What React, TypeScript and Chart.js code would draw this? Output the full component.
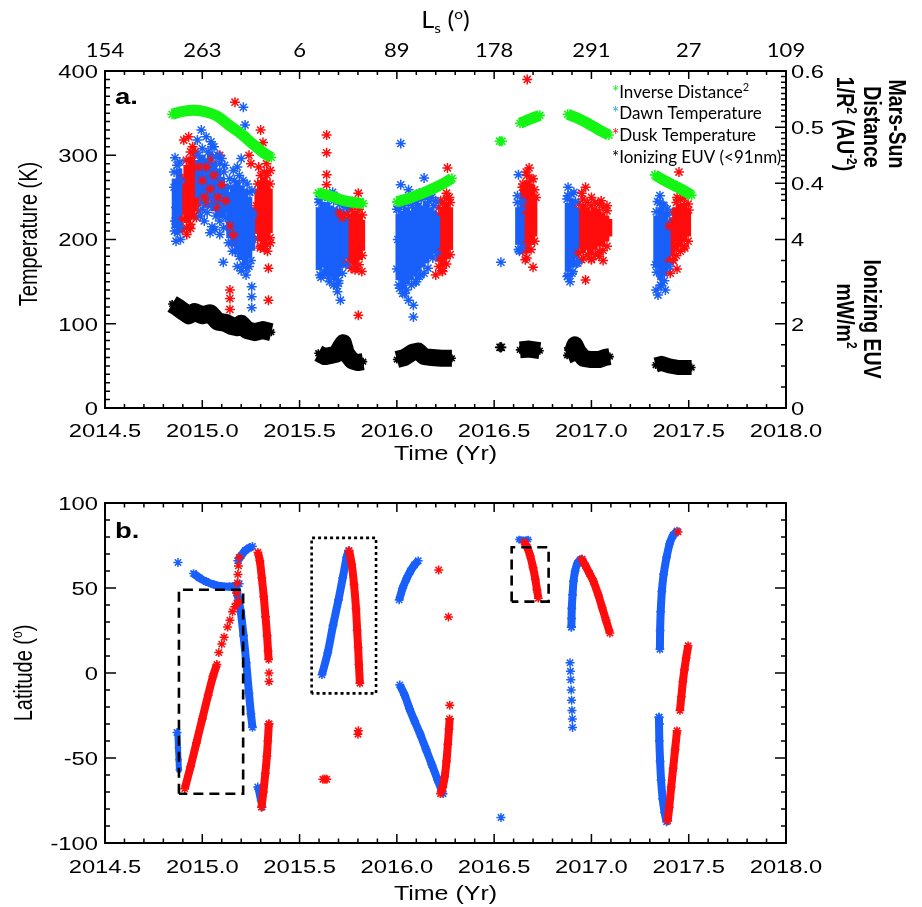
import React, { useEffect, useRef } from 'react';
import { Chart, registerables } from 'chart.js';
Chart.register(...registerables);

type P = [number, number];
type C = [number, number, number];

// ===== axis values =====
const timeTicks = [2014.5, 2015.0, 2015.5, 2016.0, 2016.5, 2017.0, 2017.5, 2018.0];
const timeTickLabels = ['2014.5', '2015.0', '2015.5', '2016.0', '2016.5', '2017.0', '2017.5', '2018.0'];
const lsTickLabels = ['154', '263', '6', '89', '178', '291', '27', '109'];
const tempTicks = [0, 100, 200, 300, 400];
const invTicks = [0.4, 0.5, 0.6];
const euvTicks = [0, 2, 4];
const latTicks = [-100, -50, 0, 50, 100];

// ===== panel a : inverse distance^2 (AU^-2) =====
const invDist1: P[] = [[2014.845, 0.523], [2014.9, 0.528], [2014.96, 0.53], [2015.02, 0.527], [2015.08, 0.519], [2015.14, 0.503], [2015.2, 0.488], [2015.26, 0.47], [2015.32, 0.453], [2015.355, 0.446]];
const invDist2: P[] = [[2015.596, 0.383], [2015.64, 0.379], [2015.68, 0.375], [2015.72, 0.37], [2015.76, 0.367], [2015.827, 0.364]];
const invDist3: P[] = [[2016.0, 0.367], [2016.05, 0.372], [2016.1, 0.378], [2016.15, 0.385], [2016.2, 0.393], [2016.25, 0.402], [2016.283, 0.409]];
const invDist4: P[] = [[2016.528, 0.475], [2016.54, 0.475]];
const invDist5: P[] = [[2016.633, 0.507], [2016.68, 0.514], [2016.735, 0.521]];
const invDist6: P[] = [[2016.878, 0.523], [2016.93, 0.516], [2016.975, 0.508], [2017.03, 0.497], [2017.09, 0.486]];
const invDist7: P[] = [[2017.326, 0.415], [2017.37, 0.406], [2017.42, 0.397], [2017.47, 0.388], [2017.515, 0.379]];

// ===== panel a : ionizing EUV (mW/m^2) =====
const euv1: P[] = [[2014.845, 2.47], [2014.87, 2.4], [2014.9, 2.3], [2014.93, 2.2], [2014.96, 2.28], [2015.0, 2.2], [2015.04, 2.25], [2015.08, 2.05], [2015.12, 2.02], [2015.15, 1.95], [2015.18, 1.92], [2015.2, 2.0], [2015.23, 1.85], [2015.27, 1.8], [2015.31, 1.85], [2015.355, 1.8]];
const euv2: P[] = [[2015.596, 1.3], [2015.63, 1.22], [2015.66, 1.25], [2015.69, 1.28], [2015.71, 1.45], [2015.725, 1.55], [2015.74, 1.3], [2015.77, 1.12], [2015.8, 1.08], [2015.827, 1.1]];
const euv3: P[] = [[2016.0, 1.15], [2016.04, 1.2], [2016.08, 1.32], [2016.11, 1.35], [2016.14, 1.22], [2016.18, 1.2], [2016.23, 1.18], [2016.283, 1.18]];
const euv4: P[] = [[2016.53, 1.44], [2016.537, 1.44]];
const euv5: P[] = [[2016.632, 1.38], [2016.68, 1.4], [2016.735, 1.36]];
const euv6: P[] = [[2016.875, 1.25], [2016.9, 1.3], [2016.915, 1.5], [2016.93, 1.35], [2016.96, 1.18], [2017.0, 1.15], [2017.04, 1.15], [2017.07, 1.2], [2017.095, 1.22]];
const euv7: P[] = [[2017.33, 1.02], [2017.36, 1.06], [2017.4, 1.0], [2017.45, 0.96], [2017.515, 0.96]];

// ===== panel a : temperatures (K); dense cores as [time, low, high] =====
const dawnTempCore: C[] = [
  [2014.86, 214, 272], [2014.88, 208, 284],
  [2014.98, 250, 294], [2015.0, 242, 300], [2015.02, 238, 296], [2015.04, 246, 304], [2015.06, 234, 292], [2015.08, 228, 284], [2015.1, 226, 274], [2015.12, 232, 266],
  [2015.14, 202, 256], [2015.16, 192, 264], [2015.18, 185, 270], [2015.2, 176, 264], [2015.22, 172, 260], [2015.24, 178, 250], [2015.255, 187, 238],
  [2015.6, 164, 238], [2015.62, 167, 244], [2015.64, 160, 244], [2015.66, 156, 240], [2015.68, 152, 238], [2015.7, 157, 236], [2015.72, 167, 234], [2015.735, 177, 226],
  [2016.01, 152, 230], [2016.03, 142, 234], [2016.05, 147, 238], [2016.07, 152, 234], [2016.09, 157, 238], [2016.11, 162, 243], [2016.13, 167, 240], [2016.15, 172, 244], [2016.17, 177, 238], [2016.19, 184, 234], [2016.205, 190, 228],
  [2016.625, 194, 238], [2016.64, 198, 230],
  [2016.88, 162, 243], [2016.9, 167, 248], [2016.92, 178, 238],
  [2017.335, 167, 228], [2017.355, 152, 238], [2017.375, 157, 234], [2017.39, 174, 223],
];
const duskTempCore: C[] = [
  [2014.9, 230, 266], [2014.92, 220, 288], [2014.94, 224, 298], [2014.96, 234, 294], [2014.98, 240, 280],
  [2015.285, 207, 260], [2015.3, 198, 270], [2015.315, 195, 274], [2015.33, 200, 270], [2015.345, 208, 260],
  [2015.745, 178, 224], [2015.765, 172, 230], [2015.785, 170, 234], [2015.805, 176, 230], [2015.82, 187, 223],
  [2016.215, 174, 232], [2016.235, 168, 238], [2016.255, 177, 243], [2016.272, 188, 238],
  [2016.65, 192, 260], [2016.67, 184, 270], [2016.69, 194, 266], [2016.705, 204, 253],
  [2016.935, 190, 236], [2016.955, 184, 242], [2016.975, 188, 238], [2016.995, 183, 234], [2017.015, 188, 238], [2017.035, 192, 236], [2017.055, 192, 232], [2017.075, 198, 228], [2017.09, 204, 224],
  [2017.4, 180, 210], [2017.415, 182, 226], [2017.435, 187, 238], [2017.455, 192, 242], [2017.475, 198, 243], [2017.495, 204, 236],
];
const dawnTemp: P[] = [
  [2014.86, 297], [2014.87, 288], [2014.855, 262], [2014.865, 238], [2014.86, 222], [2014.872, 208], [2014.865, 198], [2014.885, 215], [2014.89, 270],
  [2014.855, 280], [2014.885, 292], [2014.858, 210], [2014.888, 200],
  [2014.975, 318], [2014.995, 330], [2015.02, 322], [2015.045, 316], [2015.06, 310], [2015.08, 300], [2015.1, 296], [2015.115, 288], [2014.99, 228], [2015.01, 222], [2015.04, 208], [2015.065, 212], [2015.09, 206], [2015.11, 214], [2015.05, 215], [2015.108, 173],
  [2014.98, 300], [2015.0, 308], [2015.03, 304], [2015.05, 310], [2015.07, 298], [2015.09, 290], [2015.11, 280], [2015.0, 236], [2015.025, 232], [2015.045, 240], [2015.07, 228], [2015.09, 222], [2015.12, 226],
  [2015.14, 272], [2015.16, 282], [2015.18, 286], [2015.2, 296], [2015.22, 336], [2015.211, 357], [2015.135, 196], [2015.155, 186], [2015.18, 168], [2015.2, 163], [2015.225, 158], [2015.24, 168], [2015.254, 144], [2015.254, 132], [2015.254, 119], [2015.26, 200], [2015.262, 230], [2015.255, 258],
  [2015.145, 262], [2015.165, 270], [2015.19, 276], [2015.21, 270], [2015.23, 266], [2015.245, 256], [2015.15, 196], [2015.17, 186], [2015.19, 180], [2015.21, 170], [2015.23, 166], [2015.25, 175],
  [2015.6, 248], [2015.61, 155], [2015.63, 252], [2015.67, 256], [2015.69, 145], [2015.695, 138], [2015.71, 128], [2015.7, 148], [2015.655, 150], [2015.72, 245], [2015.74, 238], [2015.625, 160],
  [2015.6, 244], [2015.615, 250], [2015.645, 250], [2015.675, 246], [2015.705, 242], [2015.725, 240], [2015.605, 158], [2015.63, 161], [2015.65, 154], [2015.675, 146], [2015.7, 151], [2015.72, 160], [2015.738, 170],
  [2016.02, 314], [2016.02, 265], [2016.06, 259], [2016.14, 273], [2016.115, 255], [2016.16, 252], [2016.0, 236], [2016.0, 165], [2016.015, 142], [2016.04, 136], [2016.06, 128], [2016.085, 122], [2016.085, 108], [2016.1, 150], [2016.12, 158], [2016.18, 250], [2016.2, 246], [2016.005, 200],
  [2016.01, 236], [2016.035, 240], [2016.06, 244], [2016.08, 240], [2016.1, 246], [2016.125, 248], [2016.145, 250], [2016.165, 245], [2016.19, 240], [2016.01, 146], [2016.03, 136], [2016.05, 140], [2016.075, 146], [2016.095, 150], [2016.115, 156], [2016.14, 160], [2016.16, 166], [2016.185, 178], [2016.205, 184],
  [2016.625, 277], [2016.62, 252], [2016.63, 186], [2016.535, 173], [2016.645, 245],
  [2016.62, 244], [2016.64, 236], [2016.625, 188], [2016.643, 192],
  [2016.88, 262], [2016.878, 252], [2016.89, 150], [2016.876, 156], [2016.91, 256], [2016.93, 172], [2016.9, 160],
  [2016.875, 248], [2016.895, 254], [2016.918, 245], [2016.88, 157], [2016.905, 162], [2016.922, 172],
  [2017.34, 245], [2017.352, 252], [2017.368, 241], [2017.332, 140], [2017.342, 134], [2017.36, 145], [2017.38, 140], [2017.4, 168], [2017.39, 236], [2017.33, 170],
  [2017.333, 233], [2017.352, 244], [2017.373, 240], [2017.392, 229], [2017.335, 161], [2017.355, 146], [2017.375, 151], [2017.392, 168],
];
const duskTemp: P[] = [
  [2014.905, 318], [2014.93, 322], [2014.95, 310], [2014.965, 304], [2014.9, 212], [2014.92, 206], [2014.94, 213], [2014.97, 226],
  [2014.9, 272], [2014.918, 294], [2014.94, 304], [2014.96, 300], [2014.98, 286], [2014.9, 224], [2014.92, 214], [2014.94, 218], [2014.96, 228], [2014.98, 234],
  [2015.0, 270], [2015.02, 286], [2015.04, 260], [2015.06, 276], [2015.08, 250], [2015.1, 265], [2015.12, 246], [2015.07, 238], [2015.03, 242], [2015.09, 300], [2015.05, 296], [2015.01, 250],
  [2015.14, 216], [2015.16, 205], [2015.15, 196], [2015.142, 140], [2015.142, 130], [2015.142, 117], [2015.168, 363], [2015.25, 290], [2015.24, 300],
  [2015.3, 330], [2015.312, 315], [2015.29, 286], [2015.33, 290], [2015.35, 282], [2015.34, 166], [2015.34, 128], [2015.335, 186], [2015.298, 190], [2015.35, 196], [2015.278, 240],
  [2015.285, 266], [2015.3, 276], [2015.318, 280], [2015.333, 276], [2015.348, 266], [2015.285, 201], [2015.3, 192], [2015.318, 189], [2015.333, 194], [2015.348, 202],
  [2015.639, 324], [2015.639, 303], [2015.639, 277], [2015.639, 265], [2015.802, 255], [2015.802, 110], [2015.77, 245], [2015.752, 240], [2015.72, 226], [2015.705, 232], [2015.82, 162], [2015.79, 166],
  [2015.745, 230], [2015.765, 236], [2015.785, 240], [2015.805, 236], [2015.822, 229], [2015.745, 172], [2015.765, 166], [2015.785, 164], [2015.805, 170], [2015.822, 181],
  [2016.26, 285], [2016.255, 255], [2016.2, 158], [2016.225, 246], [2016.27, 250], [2016.232, 163],
  [2016.215, 238], [2016.235, 244], [2016.255, 249], [2016.274, 244], [2016.215, 168], [2016.235, 162], [2016.255, 171], [2016.274, 182],
  [2016.67, 390], [2016.68, 285], [2016.665, 280], [2016.7, 272], [2016.66, 176], [2016.7, 167], [2016.715, 250], [2016.645, 262],
  [2016.648, 266], [2016.668, 276], [2016.69, 272], [2016.708, 259], [2016.648, 186], [2016.668, 178], [2016.69, 188], [2016.708, 198],
  [2016.97, 262], [2016.95, 255], [2017.0, 250], [2017.05, 246], [2017.08, 240], [2016.97, 152], [2017.0, 176], [2017.06, 175], [2017.04, 180], [2016.95, 176],
  [2016.935, 242], [2016.955, 248], [2016.978, 244], [2016.998, 240], [2017.018, 244], [2017.04, 242], [2017.06, 238], [2017.08, 234], [2016.935, 184], [2016.958, 178], [2016.98, 182], [2017.0, 177], [2017.02, 182], [2017.04, 186], [2017.06, 187], [2017.08, 192],
  [2017.45, 280], [2017.47, 258], [2017.44, 250], [2017.42, 175], [2017.44, 165], [2017.405, 160], [2017.48, 190], [2017.5, 235],
  [2017.4, 216], [2017.418, 232], [2017.437, 244], [2017.457, 248], [2017.477, 249], [2017.497, 242], [2017.4, 174], [2017.418, 176], [2017.437, 181], [2017.457, 186], [2017.477, 192], [2017.497, 198],
];

// ===== panel b : latitude (deg) =====
const dawnLatA: P[] = [[2014.872, -35], [2014.875, -44], [2014.878, -51], [2014.88, -57]];
const dawnLatB: P[] = [[2014.955, 58.5], [2014.985, 56], [2015.02, 53.8], [2015.06, 52], [2015.1, 51], [2015.14, 50.8], [2015.17, 51.3], [2015.19, 52.5]];
const dawnLatC: P[] = [[2015.178, 48], [2015.198, 36], [2015.212, 22], [2015.226, 6], [2015.24, -12], [2015.25, -24], [2015.258, -32]];
const dawnLatD: P[] = [[2015.182, 66], [2015.2, 69], [2015.22, 72], [2015.24, 73.5], [2015.258, 74.5]];
const dawnLatE: P[] = [[2015.287, -68], [2015.3, -75], [2015.31, -79]];
const dawnLatF: P[] = [[2015.615, -1], [2015.645, 12], [2015.672, 28], [2015.7, 43], [2015.722, 56], [2015.742, 68], [2015.752, 72]];
const dawnLatG: P[] = [[2016.012, 43], [2016.03, 50], [2016.05, 55.5], [2016.07, 60], [2016.09, 63.5], [2016.11, 66]];
const dawnLatH: P[] = [[2016.015, -7], [2016.04, -13], [2016.065, -21], [2016.09, -28], [2016.12, -36], [2016.15, -45], [2016.18, -54], [2016.21, -63], [2016.238, -71]];
const dawnLatI: P[] = [[2016.628, 78.5], [2016.65, 78], [2016.675, 78.5]];
const dawnLatJ: P[] = [[2016.897, 27], [2016.899, 38], [2016.903, 46], [2016.908, 54], [2016.916, 60], [2016.928, 64.5], [2016.942, 66.5], [2016.952, 67]];
const dawnLatK: P[] = [[2017.352, 14], [2017.353, 25], [2017.356, 36], [2017.362, 48], [2017.371, 58], [2017.386, 68], [2017.402, 76], [2017.42, 81], [2017.44, 83.5]];
const dawnLatL: P[] = [[2017.347, -26], [2017.349, -40], [2017.353, -52], [2017.358, -63], [2017.366, -74], [2017.376, -82], [2017.386, -87.5]];
const dawnLatPts: P[] = [[2014.875, 65], [2014.87, -35], [2015.285, -67], [2016.535, -85], [2016.89, 6], [2016.892, 1], [2016.894, -4], [2016.896, -10], [2016.898, -16], [2016.9, -22], [2016.902, -27], [2016.903, -32], [2017.348, -26], [2017.35, -30], [2016.897, 27], [2016.898, 32]];

const duskLatA: P[] = [[2014.91, -68], [2014.94, -55], [2014.97, -41], [2015.0, -27], [2015.03, -13], [2015.055, -2], [2015.075, 5]];
const duskLatB: P[] = [[2015.286, 71], [2015.296, 66], [2015.306, 56], [2015.316, 45], [2015.325, 33], [2015.333, 22], [2015.338, 13], [2015.341, 8]];
const duskLatC: P[] = [[2015.304, -79], [2015.314, -70], [2015.324, -59], [2015.332, -49], [2015.337, -40], [2015.342, -30]];
const duskLatD: P[] = [[2015.755, 72], [2015.768, 64], [2015.78, 52], [2015.79, 38], [2015.796, 25], [2015.801, 15], [2015.805, 5], [2015.81, -6]];
const duskLatE: P[] = [[2016.224, -71], [2016.236, -67], [2016.246, -61], [2016.255, -52], [2016.262, -42], [2016.268, -33], [2016.271, -27]];
const duskLatF: P[] = [[2016.655, 77], [2016.67, 74], [2016.685, 69], [2016.7, 62], [2016.712, 55], [2016.72, 49], [2016.727, 44]];
const duskLatG: P[] = [[2016.95, 67], [2016.97, 63], [2016.99, 58.5], [2017.01, 54], [2017.035, 46], [2017.055, 38.5], [2017.075, 31], [2017.095, 23.5]];
const duskLatH: P[] = [[2017.392, -87], [2017.4, -79], [2017.41, -67], [2017.42, -56], [2017.43, -45], [2017.44, -34]];
const duskLatI: P[] = [[2017.455, -22], [2017.462, -14], [2017.47, -5], [2017.478, 2], [2017.487, 9], [2017.497, 16]];
const duskLatPts: P[] = [[2015.085, 12], [2015.1, 17], [2015.112, 21], [2015.13, 27], [2015.142, 31], [2015.155, 36], [2015.167, 39], [2015.178, 41], [2015.19, 42], [2015.176, 47], [2015.18, 53], [2015.183, 58], [2015.186, 63], [2015.19, 68], [2015.343, 0], [2015.343, -5], [2015.343, -30], [2015.63, -62.5], [2015.62, -62.5], [2015.64, -62.5], [2015.802, -34], [2015.8, -36], [2016.215, 60.6], [2016.265, 33], [2016.272, -19], [2017.445, 83]];

// highlighted regions (time, latitude corners)
const dashBox1: P[] = [[2014.88, -71], [2014.88, 49], [2015.21, 49], [2015.21, -71], [2014.88, -71]];
const dotBox: P[] = [[2015.562, -12], [2015.562, 79.5], [2015.893, 79.5], [2015.893, -12], [2015.562, -12]];
const dashBox2: P[] = [[2016.59, 42], [2016.59, 74], [2016.78, 74], [2016.78, 42], [2016.59, 42]];

// ===== styling =====
const GREEN = 'rgb(20,245,20)';
const BLUE = 'rgb(25,95,250)';
const RED = 'rgb(255,12,12)';
const SX = 1.25;
const SANS = '"Liberation Sans", Arial, Helvetica, sans-serif';
const CAL = 'Lato, "Open Sans", sans-serif';

type Seg = { t: string; sup?: boolean; sub?: boolean; color?: string };
type RO = { weight?: string; family?: string; rot?: number; sx?: number; align?: 'left' | 'center' | 'right' };

function rich(ctx: CanvasRenderingContext2D, segs: Seg[], x: number, y: number, size: number, o: RO = {}) {
  const weight = o.weight || 'normal';
  const family = o.family || SANS;
  const sx = o.sx === undefined ? SX : o.sx;
  const align = o.align || 'center';
  ctx.save();
  ctx.translate(x, y);
  ctx.scale(sx, 1);
  if (o.rot) ctx.rotate(o.rot);
  const fontFor = (s: Seg) => `${weight} ${s.sup || s.sub ? Math.round(size * 0.62) : size}px ${family}`;
  let total = 0;
  const widths = segs.map((s) => {
    ctx.font = fontFor(s);
    const w = ctx.measureText(s.t).width;
    total += w;
    return w;
  });
  let cx = align === 'center' ? -total / 2 : align === 'right' ? -total : 0;
  ctx.textAlign = 'left';
  ctx.textBaseline = 'alphabetic';
  const base = size * 0.36;
  segs.forEach((s, i) => {
    ctx.font = fontFor(s);
    ctx.fillStyle = s.color || '#000';
    const dy = s.sup ? -size * 0.4 : s.sub ? size * 0.22 : 0;
    ctx.fillText(s.t, cx, base + dy);
    cx += widths[i];
  });
  ctx.restore();
}

function xMarks(ctx: CanvasRenderingContext2D, scale: any, a: any, majorLen: number, minorLen: number) {
  const n = Math.round((timeTicks[timeTicks.length - 1] - timeTicks[0]) / 0.1);
  for (let i = 0; i <= n; i++) {
    const v = timeTicks[0] + i * 0.1;
    const px = scale.getPixelForValue(v);
    const len = i % 5 === 0 ? majorLen : minorLen;
    ctx.moveTo(px, a.bottom);
    ctx.lineTo(px, a.bottom - len);
    ctx.moveTo(px, a.top);
    ctx.lineTo(px, a.top + len);
  }
}

function yMarks(ctx: CanvasRenderingContext2D, scale: any, xEdge: number, dir: number, from: number, to: number, step: number, majorEvery: number) {
  const n = Math.round((to - from) / step);
  for (let i = 0; i <= n; i++) {
    const v = from + i * step;
    const r = v / majorEvery;
    const major = Math.abs(r - Math.round(r)) < 1e-6;
    const py = scale.getPixelForValue(v);
    const len = major ? 11 : 5;
    ctx.moveTo(xEdge, py);
    ctx.lineTo(xEdge + dir * len, py);
  }
}

const pts = (a: P[]) => a.map(([x, y]) => ({ x, y }));

const dsLine = (data: P[], color: string, width: number, yAxisID: string, order: number, starR?: number, tension = 0.25) => ({
  data: pts(data),
  showLine: true,
  borderColor: color,
  backgroundColor: color,
  borderWidth: width,
  borderCapStyle: 'butt',
  borderJoinStyle: 'round',
  tension,
  pointStyle: 'star',
  pointRadius: starR === undefined ? Math.max(3, width * 0.55) : starR,
  pointBorderWidth: 1.6,
  pointBorderColor: color,
  pointBackgroundColor: color,
  yAxisID,
  order,
});

const dsStars = (data: P[], color: string, r: number, yAxisID: string, order: number) => ({
  data: pts(data),
  showLine: false,
  borderColor: color,
  backgroundColor: color,
  pointStyle: 'star',
  pointRadius: r,
  pointBorderWidth: 1.5,
  pointBorderColor: color,
  yAxisID,
  order,
});

const dsCore = (data: C[], color: string, order: number) => ({
  type: 'bar',
  data: data.map(([x, lo, hi]) => ({ x, y: [lo, hi] })),
  backgroundColor: color,
  borderWidth: 0,
  barThickness: 6,
  grouped: false,
  xAxisID: 'x',
  yAxisID: 'y',
  order,
});

const dsBox = (data: P[], dash: number[]) => ({
  data: pts(data),
  showLine: true,
  borderColor: '#000',
  borderWidth: 2.6,
  borderDash: dash,
  borderCapStyle: 'butt',
  pointRadius: 0,
  tension: 0,
  yAxisID: 'y',
  order: 0,
});

const panelAPlugin = {
  id: 'panelA',
  afterDraw(chart: any) {
    const { ctx, chartArea: a, scales: s } = chart;
    ctx.save();
    ctx.strokeStyle = '#000';
    ctx.lineWidth = 1.5;
    ctx.beginPath();
    xMarks(ctx, s.x, a, 8, 4);
    yMarks(ctx, s.y, a.left, 1, 0, 400, 10, 100);
    yMarks(ctx, s.yInv, a.right, -1, 0.37, 0.6, 0.01, 0.1);
    yMarks(ctx, s.yEuv, a.right, -1, 0, 4.5, 0.5, 2);
    ctx.stroke();
    ctx.lineWidth = 2;
    ctx.strokeRect(a.left, a.top, a.right - a.left, a.bottom - a.top);
    ctx.restore();

    timeTicks.forEach((v, i) => rich(ctx, [{ t: timeTickLabels[i] }], s.x.getPixelForValue(v), a.bottom + 22, 19));
    lsTickLabels.forEach((t, i) => rich(ctx, [{ t }], s.x.getPixelForValue(timeTicks[i]), a.top - 21, 20, { family: CAL, sx: 1.1 }));
    tempTicks.forEach((v) => rich(ctx, [{ t: String(v) }], a.left - 7, s.y.getPixelForValue(v), 19, { align: 'right' }));
    invTicks.forEach((v) => rich(ctx, [{ t: v.toFixed(1) }], a.right + 5, s.yInv.getPixelForValue(v), 19, { align: 'left' }));
    euvTicks.forEach((v) => rich(ctx, [{ t: String(v) }], a.right + 5, s.yEuv.getPixelForValue(v), 19, { align: 'left' }));

    rich(ctx, [{ t: 'Time (Yr)' }], (a.left + a.right) / 2, 453, 20);
    rich(ctx, [{ t: 'Temperature (K)' }], 28, 234, 20, { rot: -Math.PI / 2 });
    rich(ctx, [{ t: 'L' }, { t: 's', sub: true }, { t: ' (' }, { t: 'o', sup: true }, { t: ')' }], (a.left + a.right) / 2, 20, 23, { family: CAL, sx: 1.1 });

    const bold = { weight: 'bold', rot: Math.PI / 2 } as RO;
    rich(ctx, [{ t: 'Mars-Sun' }], 898, 124, 19.5, bold);
    rich(ctx, [{ t: 'Distance' }], 873, 127, 19.5, bold);
    rich(ctx, [{ t: '1/R' }, { t: '2', sup: true }, { t: ' (AU' }, { t: '-2', sup: true }, { t: ')' }], 846, 124, 19.5, bold);
    rich(ctx, [{ t: 'Ionizing EUV' }], 873, 319, 19.5, bold);
    rich(ctx, [{ t: 'mW/m' }, { t: '2', sup: true }], 846, 316, 19.5, bold);

    rich(ctx, [{ t: 'a.' }], a.left + 10, 96, 22, { weight: 'bold', align: 'left' });

    const lg = { family: CAL, sx: 1, align: 'left' } as RO;
    rich(ctx, [{ t: '*', color: GREEN }, { t: 'Inverse Distance' }, { t: '2', sup: true }], 612, 92, 17, lg);
    rich(ctx, [{ t: '*', color: 'rgb(40,170,255)' }, { t: 'Dawn Temperature' }], 612, 113, 17, lg);
    rich(ctx, [{ t: '*', color: RED }, { t: 'Dusk Temperature' }], 612, 135, 17, lg);
    rich(ctx, [{ t: '*', color: '#000' }, { t: 'Ionizing EUV (<91nm)' }], 612, 157, 17, lg);
  },
};

const panelBPlugin = {
  id: 'panelB',
  afterDraw(chart: any) {
    const { ctx, chartArea: a, scales: s } = chart;
    ctx.save();
    ctx.strokeStyle = '#000';
    ctx.lineWidth = 1.5;
    ctx.beginPath();
    xMarks(ctx, s.x, a, 9, 4.5);
    yMarks(ctx, s.y, a.left, 1, -100, 100, 10, 50);
    yMarks(ctx, s.y, a.right, -1, -100, 100, 10, 50);
    ctx.stroke();
    ctx.lineWidth = 2;
    ctx.strokeRect(a.left, a.top, a.right - a.left, a.bottom - a.top);
    ctx.restore();

    timeTicks.forEach((v, i) => rich(ctx, [{ t: timeTickLabels[i] }], s.x.getPixelForValue(v), a.bottom + 23, 19));
    latTicks.forEach((v) => rich(ctx, [{ t: String(v) }], a.left - 7, s.y.getPixelForValue(v), 19, { align: 'right' }));
    rich(ctx, [{ t: 'Time (Yr)' }], (a.left + a.right) / 2, 423, 20);
    rich(ctx, [{ t: 'Latitude (' }, { t: 'o', sup: true }, { t: ')' }], 23, (a.top + a.bottom) / 2, 20, { rot: -Math.PI / 2 });
    rich(ctx, [{ t: 'b.' }], a.left + 10, 60, 22, { weight: 'bold', align: 'left' });
  },
};

function configA(): any {
  return {
    type: 'scatter',
    data: {
      datasets: [
        dsCore(duskTempCore, RED, 20),
        dsCore(dawnTempCore, BLUE, 19),
        dsStars(duskTemp, RED, 5, 'y', 18),
        dsStars(dawnTemp, BLUE, 5, 'y', 17),
        dsLine(euv1, '#000', 18, 'yEuv', 10, 4, 0),
        dsLine(euv2, '#000', 17, 'yEuv', 10, 4, 0),
        dsLine(euv3, '#000', 17, 'yEuv', 10, 4, 0),
        dsLine(euv4, '#000', 10, 'yEuv', 10, 5, 0),
        dsLine(euv5, '#000', 17, 'yEuv', 10, 4, 0),
        dsLine(euv6, '#000', 17, 'yEuv', 10, 4, 0),
        dsLine(euv7, '#000', 15, 'yEuv', 10, 4, 0),
        dsLine(invDist1, GREEN, 11, 'yInv', 9, 5),
        dsLine(invDist2, GREEN, 11, 'yInv', 9, 5),
        dsLine(invDist3, GREEN, 11, 'yInv', 9, 5),
        dsLine(invDist4, GREEN, 9, 'yInv', 9, 5),
        dsLine(invDist5, GREEN, 11, 'yInv', 9, 5),
        dsLine(invDist6, GREEN, 11, 'yInv', 9, 5),
        dsLine(invDist7, GREEN, 11, 'yInv', 9, 5),
      ],
    },
    options: {
      responsive: false,
      animation: false,
      events: [],
      layout: { padding: { left: 105, right: 136, top: 71, bottom: 62 } },
      scales: {
        x: { type: 'linear', min: 2014.5, max: 2018.0, display: false, offset: false },
        y: { type: 'linear', min: 0, max: 400, display: false },
        yInv: { type: 'linear', axis: 'y', min: 0, max: 0.6, display: false },
        yEuv: { type: 'linear', axis: 'y', min: 0, max: 8, display: false },
      },
      plugins: { legend: { display: false }, tooltip: { enabled: false } },
    },
    plugins: [panelAPlugin],
  };
}

function configB(): any {
  const dawn = [dawnLatB, dawnLatC, dawnLatD, dawnLatF, dawnLatG, dawnLatH, dawnLatJ, dawnLatK, dawnLatL];
  const dusk = [duskLatA, duskLatB, duskLatC, duskLatD, duskLatE, duskLatF, duskLatG, duskLatH, duskLatI];
  return {
    type: 'scatter',
    data: {
      datasets: [
        dsBox(dashBox1, [10, 6]),
        dsBox(dotBox, [3, 3]),
        dsBox(dashBox2, [10, 6]),
        ...dusk.map((d) => dsLine(d, RED, 8, 'y', 5)),
        dsStars(duskLatPts, RED, 4.5, 'y', 5),
        ...dawn.map((d) => dsLine(d, BLUE, 8, 'y', 6)),
        dsLine(dawnLatA, BLUE, 6, 'y', 6),
        dsLine(dawnLatE, BLUE, 7, 'y', 6),
        dsLine(dawnLatI, BLUE, 7, 'y', 6),
        dsStars(dawnLatPts, BLUE, 4.5, 'y', 6),
      ],
    },
    options: {
      responsive: false,
      animation: false,
      events: [],
      layout: { padding: { left: 105, right: 136, top: 33, bottom: 64 } },
      scales: {
        x: { type: 'linear', min: 2014.5, max: 2018.0, display: false, offset: false },
        y: { type: 'linear', min: -100, max: 100, display: false },
      },
      plugins: { legend: { display: false }, tooltip: { enabled: false } },
    },
    plugins: [panelBPlugin],
  };
}

export default function App() {
  const refA = useRef<HTMLCanvasElement>(null);
  const refB = useRef<HTMLCanvasElement>(null);
  useEffect(() => {
    const a = new Chart(refA.current as HTMLCanvasElement, configA());
    const b = new Chart(refB.current as HTMLCanvasElement, configB());
    return () => {
      a.destroy();
      b.destroy();
    };
  }, []);
  return (
    <div style={{ position: 'absolute', left: 0, top: 0, width: 922, height: 907, background: '#fff' }}>
      <canvas ref={refA} width={922} height={470} style={{ position: 'absolute', left: 0, top: 0 }} />
      <canvas ref={refB} width={922} height={437} style={{ position: 'absolute', left: 0, top: 470 }} />
    </div>
  );
}
